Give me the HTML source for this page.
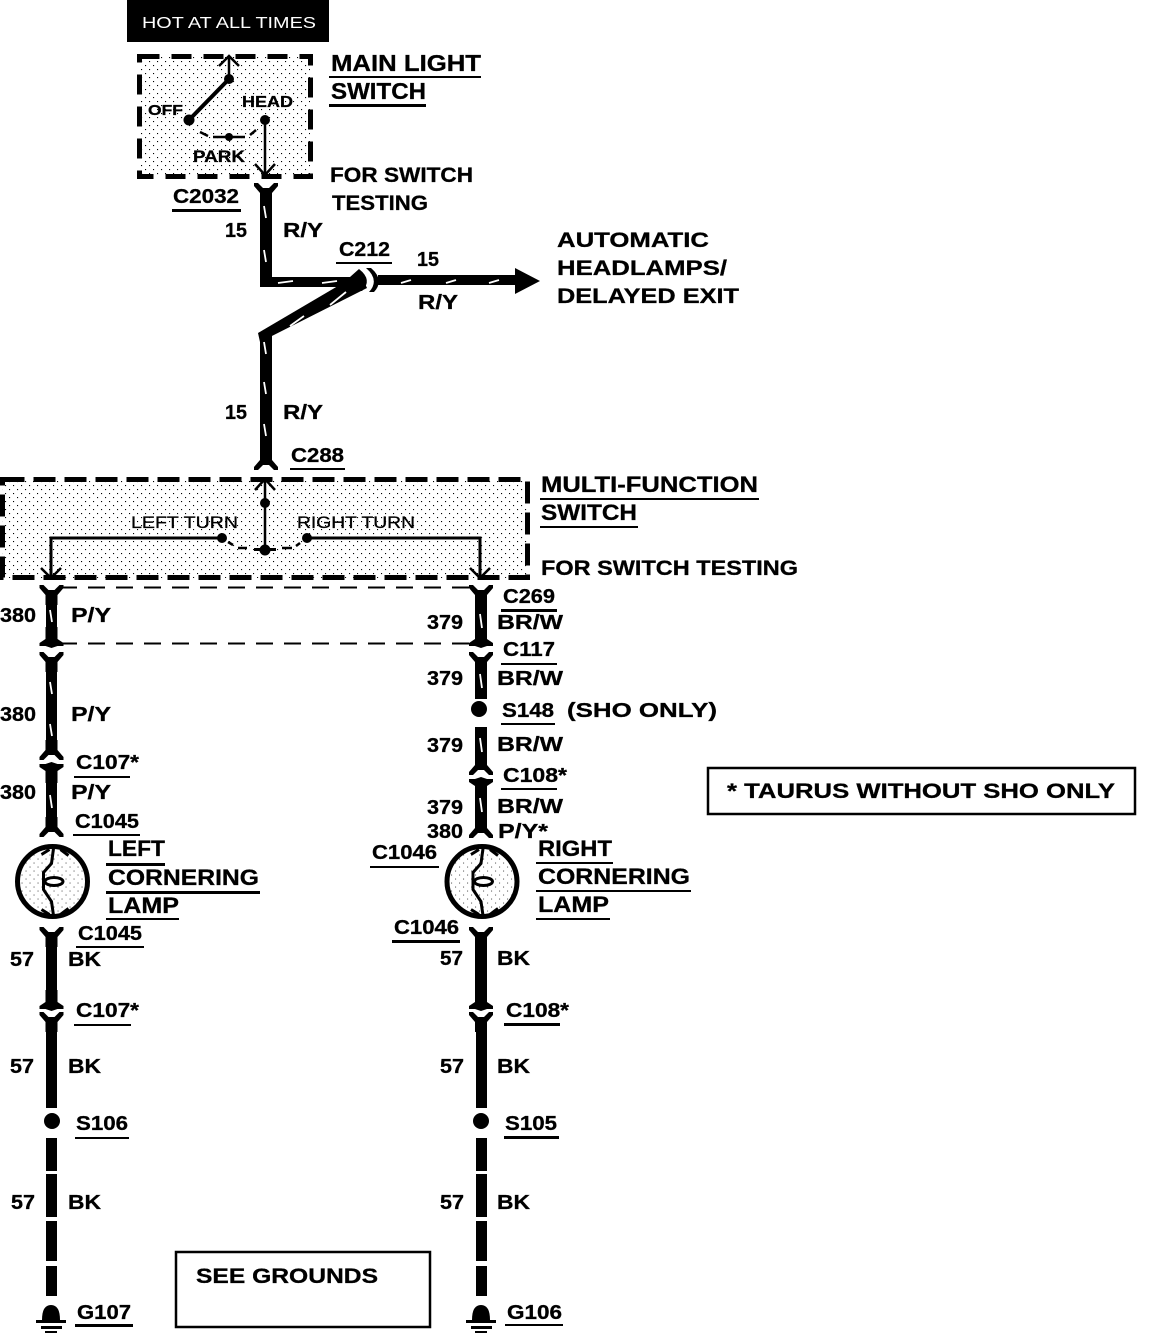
<!DOCTYPE html>
<html><head><meta charset="utf-8"><style>
html,body{margin:0;padding:0;background:#fff}
svg{display:block}
text{font-family:"Liberation Sans",sans-serif;font-weight:bold;fill:#000;stroke:#000;stroke-width:.3px}
</style></head><body>
<svg width="1152" height="1334" viewBox="0 0 1152 1334" xmlns="http://www.w3.org/2000/svg">
<defs>
<pattern id="d" width="8" height="8" patternUnits="userSpaceOnUse"><rect x="1" y="1" width="1.1" height="1.1" fill="#000"/><rect x="5" y="5" width="1.100" height="1.100" fill="#000"/></pattern>
<path id="yt" d="M-12,0 L-8,0 L-3,5 L3,5 L8,0 L12,0 L12,3 L6,10 V20 H-6 V10 L-12,3 Z"/>
<path id="yb" d="M-12,0 L-8,0 L-3,-5 L3,-5 L8,0 L12,0 L12,-3 L6,-10 V-20 H-6 V-10 L-12,-3 Z"/>
<path id="ab" d="M-6,-20 H6 V-8 L12,-4 L12,-1 L6,-1 L0,1 L-6,-1 L-12,-1 L-12,-4 L-6,-8 Z"/>
<path id="au" d="M-6,20 H6 V8 L12,4 L12,1 L6,1 L0,-1 L-6,1 L-12,1 L-12,4 L-6,8 Z"/>
<path id="aw" d="M-10,-10 L0,0 L10,-10" fill="none" stroke="#000" stroke-width="2.5"/>
<g id="gnd"><path d="M-9,0 Q-9,-15 0,-15 Q9,-15 9,0 Z"/><rect x="-15" y="0" width="30" height="3"/><rect x="-10" y="6" width="21" height="3"/><rect x="-6" y="11" width="12" height="2"/></g>
<g id="lamp"><circle r="35" fill="#fff" stroke="#000" stroke-width="5"/><circle r="33" fill="url(#d)" opacity=".6"/>
<path d="M1,-33 L-1,-18 L-9,-9 V8 L-1,20 L1,34" fill="none" stroke="#000" stroke-width="3"/>
<path d="M-11,-27 L-3,-32 M8,-32 L16,-26 M-11,28 L-3,33 M8,33 L16,27" stroke="#000" stroke-width="3"/>
<ellipse cx="1.500" cy="0" rx="9" ry="4" fill="#fff" stroke="#000" stroke-width="3"/></g>
</defs>

<!-- hot bar -->
<rect x="127" y="0" width="202" height="42" fill="#000"/>
<text x="142" y="28" font-size="16" textLength="174" lengthAdjust="spacingAndGlyphs" style="fill:#fff;stroke:none;font-weight:normal">HOT AT ALL TIMES</text>

<!-- main light switch -->
<rect x="139" y="56" width="171" height="120" fill="url(#d)"/>
<rect x="139.500" y="56.500" width="171" height="120" fill="none" stroke="#000" stroke-width="5" stroke-dasharray="20 12"/>
<path d="M189,120 L229,79" stroke="#000" stroke-width="4"/>
<circle cx="189" cy="120" r="5.500"/><circle cx="229" cy="79" r="5"/>
<path d="M229,76 V58 M219,66 L229,56 L239,66" fill="none" stroke="#000" stroke-width="2.500"/>
<circle cx="265" cy="120" r="5"/><path d="M265,120 V176" stroke="#000" stroke-width="2.500"/>
<path d="M255,164 L265,175 L275,164" fill="none" stroke="#000" stroke-width="2.500"/>
<path d="M200,132 L208,136 M213,137 H245 M250,135 L256,130" stroke="#000" stroke-width="2.500"/><circle cx="229" cy="137" r="4"/>
<text x="148" y="115" font-size="15" textLength="35" lengthAdjust="spacingAndGlyphs">OFF</text>
<text x="242" y="107" font-size="16" textLength="51" lengthAdjust="spacingAndGlyphs">HEAD</text>
<text x="193" y="162" font-size="17" textLength="52" lengthAdjust="spacingAndGlyphs">PARK</text>
<text x="331" y="71" font-size="23" textLength="150" lengthAdjust="spacingAndGlyphs">MAIN LIGHT</text>
<rect x="329" y="76" width="152" height="2"/>
<text x="331" y="99" font-size="23" textLength="95" lengthAdjust="spacingAndGlyphs">SWITCH</text>
<rect x="329" y="104" width="97" height="3"/>
<text x="330" y="182" font-size="21" textLength="143" lengthAdjust="spacingAndGlyphs">FOR SWITCH</text>
<text x="332" y="210" font-size="21" textLength="96" lengthAdjust="spacingAndGlyphs">TESTING</text>
<text x="173" y="203" font-size="20" textLength="66" lengthAdjust="spacingAndGlyphs">C2032</text>
<rect x="172" y="209" width="69" height="3"/>
<text x="225" y="237" font-size="20" textLength="22" lengthAdjust="spacingAndGlyphs">15</text>
<text x="283" y="237" font-size="20" textLength="40" lengthAdjust="spacingAndGlyphs">R/Y</text>
<text x="339" y="256" font-size="20" textLength="51" lengthAdjust="spacingAndGlyphs">C212</text>
<rect x="336" y="262" width="56" height="2"/>
<text x="417" y="266" font-size="20" textLength="22" lengthAdjust="spacingAndGlyphs">15</text>
<text x="418" y="309" font-size="20" textLength="40" lengthAdjust="spacingAndGlyphs">R/Y</text>
<text x="225" y="419" font-size="20" textLength="22" lengthAdjust="spacingAndGlyphs">15</text>
<text x="283" y="419" font-size="20" textLength="40" lengthAdjust="spacingAndGlyphs">R/Y</text>
<text x="557" y="247" font-size="21" textLength="152" lengthAdjust="spacingAndGlyphs">AUTOMATIC</text>
<text x="557" y="275" font-size="21" textLength="170" lengthAdjust="spacingAndGlyphs">HEADLAMPS/</text>
<text x="557" y="303" font-size="21" textLength="182" lengthAdjust="spacingAndGlyphs">DELAYED EXIT</text>

<!-- top wires -->
<use href="#yt" x="266" y="183"/>
<rect x="260" y="195" width="12" height="92"/>
<rect x="260" y="277" width="102" height="10"/>
<path d="M258,333 L360,273 L367,288 L260,342 Z"/>
<path d="M359,269 Q373,280 362,291 L350,290 L350,277 Z"/>
<path d="M366,268 Q380,280 369,292 L374,292 Q385,280 371,268 Z"/>
<rect x="378" y="275" width="138" height="10"/>
<path d="M515,268 L540,281 L515,294 Z"/>
<rect x="260" y="334" width="12" height="126"/>
<use href="#yb" x="266" y="470"/>
<g stroke="#fff" stroke-width="1.800" fill="none">
<path d="M264,206 L266,218 M264,250 L266,262 M278,283 L293,281 M322,283 L337,281 M401,283 L411,280 M446,283 L456,280 M489,283 L499,280 M290,326 L304,316 M330,305 L346,292 M264,342 L266,354 M264,382 L266,394 M264,424 L266,436"/>
</g>
<text x="291" y="462" font-size="20" textLength="53" lengthAdjust="spacingAndGlyphs">C288</text>
<rect x="290" y="468" width="55" height="2"/>

<!-- multi-function switch -->
<rect x="2" y="480" width="525" height="98" fill="url(#d)"/>
<rect x="2.500" y="479.500" width="525" height="98" fill="none" stroke="#000" stroke-width="5" stroke-dasharray="22 9"/>
<path d="M255,490 L265,479 L275,490 M265,480 V552" fill="none" stroke="#000" stroke-width="2.500"/>
<circle cx="265" cy="503" r="5"/><circle cx="265" cy="550" r="5.500"/>
<rect x="254" y="548" width="22" height="3"/>
<path d="M51,578 V538 H222 M307,538 H480 V578" fill="none" stroke="#000" stroke-width="3"/>
<circle cx="222" cy="538" r="5"/><circle cx="307" cy="538" r="5"/>
<path d="M228,542 L233,545 M238,548 H247 M282,548 H292 M296,546 L300,543" stroke="#000" stroke-width="2.500"/>
<use href="#aw" x="51" y="578"/><use href="#aw" x="480" y="578"/>
<text x="131" y="528" font-size="17" textLength="107" lengthAdjust="spacingAndGlyphs" style="font-weight:normal">LEFT TURN</text>
<text x="297" y="528" font-size="17" textLength="118" lengthAdjust="spacingAndGlyphs" style="font-weight:normal">RIGHT TURN</text>
<text x="541" y="492" font-size="22" textLength="217" lengthAdjust="spacingAndGlyphs">MULTI-FUNCTION</text>
<rect x="540" y="498" width="219" height="2"/>
<text x="541" y="520" font-size="22" textLength="96" lengthAdjust="spacingAndGlyphs">SWITCH</text>
<rect x="540" y="526" width="98" height="2"/>
<text x="541" y="575" font-size="21" textLength="257" lengthAdjust="spacingAndGlyphs">FOR SWITCH TESTING</text>

<!-- dashed links -->
<path d="M60,587.500 H472 M60,643.500 H472" stroke="#000" stroke-width="2" stroke-dasharray="17 11"/>

<!-- left wires -->
<g>
<use href="#yt" x="51.500" y="585"/><rect x="46" y="600" width="11" height="40"/><use href="#ab" x="51.500" y="647"/>
<use href="#yt" x="51.500" y="652"/><rect x="46" y="668" width="11" height="80"/>
<use href="#yb" x="51.500" y="760"/><use href="#au" x="51.500" y="763"/>
<rect x="46" y="780" width="11" height="45"/>
<use href="#yb" x="51.500" y="837"/>
<use href="#lamp" x="52.500" y="881.500"/>
<use href="#yt" x="51.500" y="927"/><rect x="46" y="940" width="11" height="55"/>
<use href="#ab" x="51.500" y="1010"/><use href="#yt" x="51.500" y="1012"/>
<rect x="46" y="1028" width="11" height="80"/>
<circle cx="52" cy="1121" r="8"/>
<rect x="46" y="1138" width="11" height="33"/><rect x="46" y="1174" width="11" height="43"/><rect x="46" y="1221" width="11" height="40"/><rect x="46" y="1266" width="11" height="30"/>
<use href="#gnd" x="51" y="1320"/>
</g>
<g stroke="#fff" stroke-width="1.800"><path d="M50,610 L52,622 M50,682 L52,694 M50,724 L52,736 M50,795 L52,808"/></g>

<!-- right wires -->
<g>
<use href="#yt" x="481" y="585"/><rect x="475" y="600" width="12" height="40"/><use href="#ab" x="481" y="647"/>
<use href="#yt" x="481" y="652"/><rect x="475" y="668" width="12" height="31"/>
<circle cx="479" cy="709" r="8"/>
<rect x="475" y="727" width="12" height="36"/>
<use href="#yb" x="481" y="775"/><use href="#au" x="481" y="778"/>
<rect x="475" y="795" width="12" height="32"/>
<use href="#yb" x="481" y="838"/>
<use href="#lamp" x="482" y="881.500"/>
<use href="#yt" x="481" y="927"/><rect x="475" y="940" width="12" height="55"/>
<use href="#ab" x="481" y="1010"/><use href="#yt" x="481" y="1012"/>
<rect x="476" y="1028" width="11" height="80"/>
<circle cx="481" cy="1121" r="8"/>
<rect x="476" y="1138" width="11" height="33"/><rect x="476" y="1174" width="11" height="43"/><rect x="476" y="1221" width="11" height="40"/><rect x="476" y="1266" width="11" height="30"/>
<use href="#gnd" x="481" y="1320"/>
</g>
<g stroke="#fff" stroke-width="1.800"><path d="M480,614 L482,628 M480,674 L482,688 M480,738 L482,752 M480,798 L482,812"/></g>

<!-- left labels -->
<g font-size="20">
<text x="0" y="622" textLength="36" lengthAdjust="spacingAndGlyphs">380</text>
<text x="71" y="622" textLength="40" lengthAdjust="spacingAndGlyphs">P/Y</text>
<text x="0" y="721" textLength="36" lengthAdjust="spacingAndGlyphs">380</text>
<text x="71" y="721" textLength="40" lengthAdjust="spacingAndGlyphs">P/Y</text>
<text x="76" y="769" textLength="63" lengthAdjust="spacingAndGlyphs">C107*</text>
<rect x="74" y="776" width="56" height="2"/>
<text x="0" y="799" textLength="36" lengthAdjust="spacingAndGlyphs">380</text>
<text x="71" y="799" textLength="40" lengthAdjust="spacingAndGlyphs">P/Y</text>
<text x="75" y="828" textLength="64" lengthAdjust="spacingAndGlyphs">C1045</text>
<rect x="73" y="834" width="67" height="2"/>
<text x="108" y="856" font-size="22" textLength="57" lengthAdjust="spacingAndGlyphs">LEFT</text>
<rect x="106" y="863" width="59" height="3"/>
<text x="108" y="885" font-size="22" textLength="151" lengthAdjust="spacingAndGlyphs">CORNERING</text>
<rect x="106" y="891" width="154" height="3"/>
<text x="108" y="913" font-size="22" textLength="71" lengthAdjust="spacingAndGlyphs">LAMP</text>
<rect x="106" y="918" width="73" height="2"/>
<text x="78" y="940" textLength="64" lengthAdjust="spacingAndGlyphs">C1045</text>
<rect x="76" y="946" width="68" height="2"/>
<text x="10" y="966" textLength="24" lengthAdjust="spacingAndGlyphs">57</text>
<text x="68" y="966" textLength="33" lengthAdjust="spacingAndGlyphs">BK</text>
<text x="76" y="1017" textLength="63" lengthAdjust="spacingAndGlyphs">C107*</text>
<rect x="74" y="1024" width="57" height="2"/>
<text x="10" y="1073" textLength="24" lengthAdjust="spacingAndGlyphs">57</text>
<text x="68" y="1073" textLength="33" lengthAdjust="spacingAndGlyphs">BK</text>
<text x="76" y="1130" textLength="52" lengthAdjust="spacingAndGlyphs">S106</text>
<rect x="75" y="1137" width="54" height="2"/>
<text x="11" y="1209" textLength="24" lengthAdjust="spacingAndGlyphs">57</text>
<text x="68" y="1209" textLength="33" lengthAdjust="spacingAndGlyphs">BK</text>
<text x="77" y="1319" textLength="54" lengthAdjust="spacingAndGlyphs">G107</text>
<rect x="75" y="1324" width="58" height="3"/>
</g>

<!-- right labels -->
<g font-size="20">
<text x="503" y="603" textLength="52" lengthAdjust="spacingAndGlyphs">C269</text>
<rect x="501" y="609" width="56" height="3"/>
<text x="427" y="629" textLength="36" lengthAdjust="spacingAndGlyphs">379</text>
<text x="497" y="629" textLength="66" lengthAdjust="spacingAndGlyphs">BR/W</text>
<text x="503" y="656" textLength="52" lengthAdjust="spacingAndGlyphs">C117</text>
<rect x="501" y="663" width="56" height="2"/>
<text x="427" y="685" textLength="36" lengthAdjust="spacingAndGlyphs">379</text>
<text x="497" y="685" textLength="66" lengthAdjust="spacingAndGlyphs">BR/W</text>
<text x="502" y="717" textLength="52" lengthAdjust="spacingAndGlyphs">S148</text>
<rect x="501" y="723" width="54" height="2"/>
<text x="567" y="717" textLength="150" lengthAdjust="spacingAndGlyphs">(SHO ONLY)</text>
<text x="427" y="752" textLength="36" lengthAdjust="spacingAndGlyphs">379</text>
<text x="497" y="751" textLength="66" lengthAdjust="spacingAndGlyphs">BR/W</text>
<text x="503" y="782" textLength="64" lengthAdjust="spacingAndGlyphs">C108*</text>
<rect x="501" y="788" width="56" height="2"/>
<text x="427" y="814" textLength="36" lengthAdjust="spacingAndGlyphs">379</text>
<text x="497" y="813" textLength="66" lengthAdjust="spacingAndGlyphs">BR/W</text>
<text x="427" y="838" textLength="36" lengthAdjust="spacingAndGlyphs">380</text>
<text x="498" y="838" textLength="50" lengthAdjust="spacingAndGlyphs">P/Y*</text>
<text x="372" y="859" textLength="65" lengthAdjust="spacingAndGlyphs">C1046</text>
<rect x="370" y="866" width="69" height="2"/>
<text x="538" y="856" font-size="22" textLength="74" lengthAdjust="spacingAndGlyphs">RIGHT</text>
<rect x="536" y="862" width="77" height="2"/>
<text x="538" y="884" font-size="22" textLength="152" lengthAdjust="spacingAndGlyphs">CORNERING</text>
<rect x="536" y="890" width="155" height="2"/>
<text x="538" y="912" font-size="22" textLength="71" lengthAdjust="spacingAndGlyphs">LAMP</text>
<rect x="536" y="918" width="74" height="2"/>
<text x="394" y="934" textLength="65" lengthAdjust="spacingAndGlyphs">C1046</text>
<rect x="392" y="940" width="68" height="3"/>
<text x="440" y="965" textLength="23" lengthAdjust="spacingAndGlyphs">57</text>
<text x="497" y="965" textLength="33" lengthAdjust="spacingAndGlyphs">BK</text>
<text x="506" y="1017" textLength="63" lengthAdjust="spacingAndGlyphs">C108*</text>
<rect x="504" y="1023" width="56" height="3"/>
<text x="440" y="1073" textLength="24" lengthAdjust="spacingAndGlyphs">57</text>
<text x="497" y="1073" textLength="33" lengthAdjust="spacingAndGlyphs">BK</text>
<text x="505" y="1130" textLength="52" lengthAdjust="spacingAndGlyphs">S105</text>
<rect x="504" y="1136" width="55" height="3"/>
<text x="440" y="1209" textLength="24" lengthAdjust="spacingAndGlyphs">57</text>
<text x="497" y="1209" textLength="33" lengthAdjust="spacingAndGlyphs">BK</text>
<text x="507" y="1319" textLength="55" lengthAdjust="spacingAndGlyphs">G106</text>
<rect x="505" y="1324" width="58" height="2"/>
</g>

<!-- boxes -->
<rect x="176" y="1252" width="254" height="75" fill="none" stroke="#000" stroke-width="2.500"/>
<text x="196" y="1283" font-size="21" textLength="182" lengthAdjust="spacingAndGlyphs">SEE GROUNDS</text>
<rect x="708" y="768" width="427" height="46" fill="none" stroke="#000" stroke-width="2.500"/>
<text x="727" y="798" font-size="21" textLength="388" lengthAdjust="spacingAndGlyphs">* TAURUS WITHOUT SHO ONLY</text>
</svg>
</body></html>
